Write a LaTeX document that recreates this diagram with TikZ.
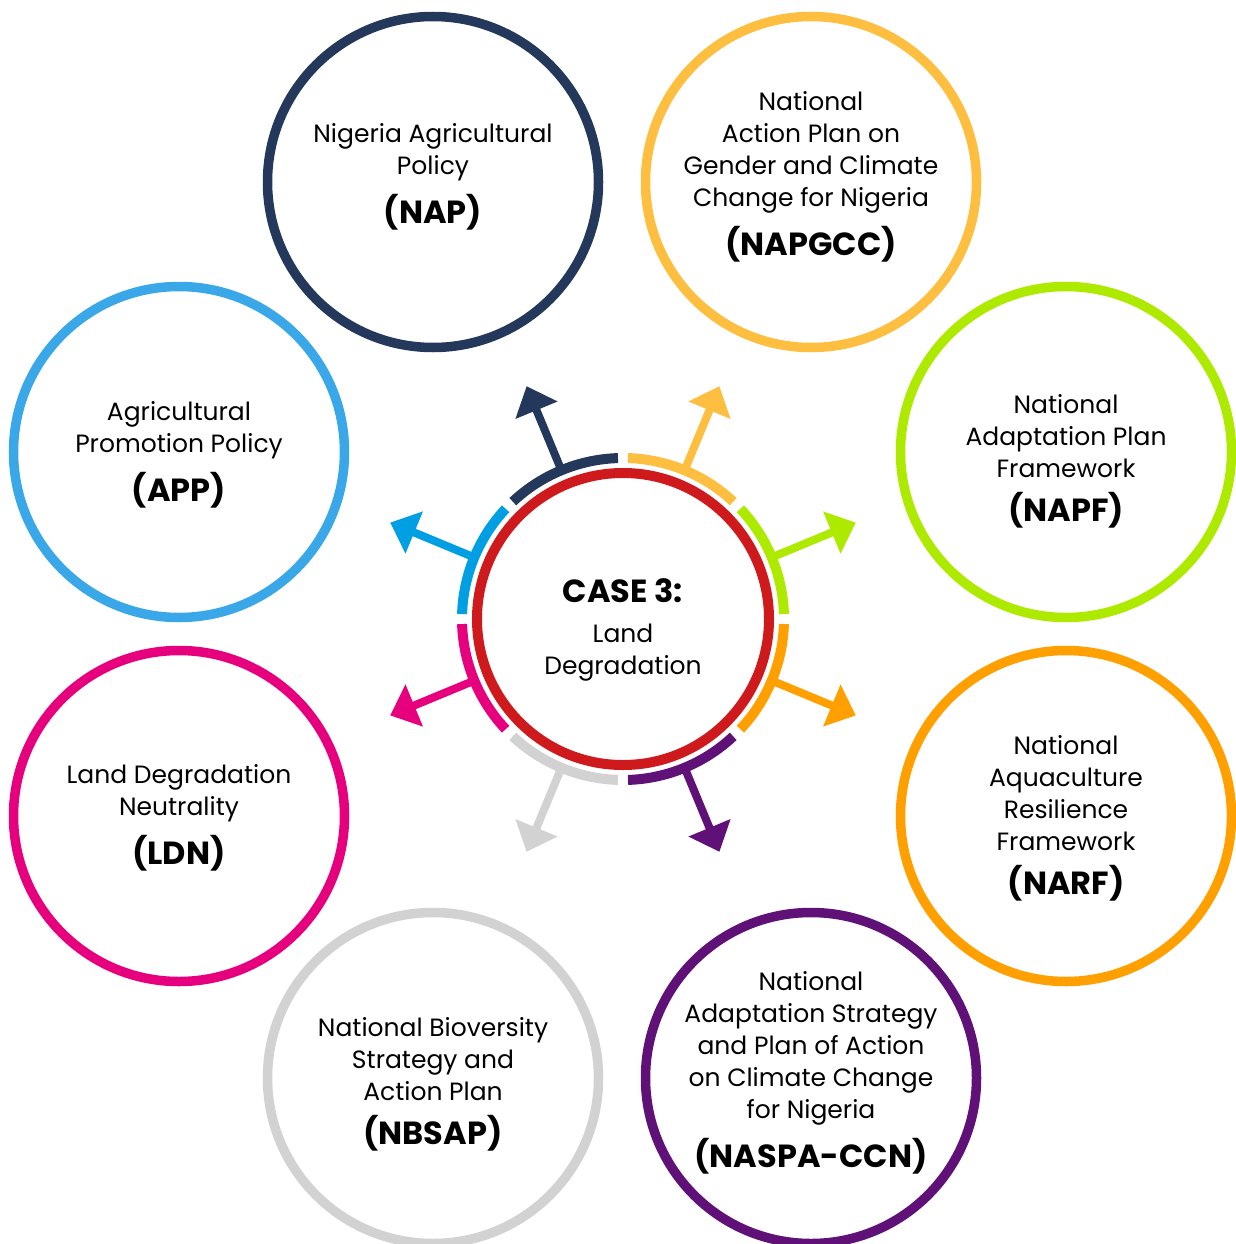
\documentclass[tikz,border=0pt]{standalone}
\usepackage{fontspec}
\setmainfont{Poppins}
\usetikzlibrary{arrows.meta}
\definecolor{navy}{HTML}{23385A}
\definecolor{gold}{HTML}{FEBE40}
\definecolor{lime}{HTML}{AEEA00}
\definecolor{amber}{HTML}{FFA000}
\definecolor{plum}{HTML}{5F1178}
\definecolor{silver}{HTML}{D2D2D2}
\definecolor{rose}{HTML}{E6007E}
\definecolor{sky}{HTML}{3AA8E8}
\definecolor{cyanarc}{HTML}{009FE3}
\definecolor{crimson}{HTML}{CF1A1D}

\begin{document}
\begin{tikzpicture}[x=1pt,y=1pt]
   \useasboundingbox (0,0) rectangle (1235,-1244);
   \tikzstyle{ring}=[circle, draw, line width=9.5pt, minimum size=331pt, inner sep=0pt]
   \tikzstyle{txt}=[align=center, font=\fontsize{25}{32}\selectfont, inner sep=0pt]
   \node[circle, draw=crimson, line width=10pt, minimum size=292pt, inner sep=0pt] (case) at (623,-619) {};
   \node[txt] (case-t) at (623,-630) {{\bfseries\fontsize{32}{32}\selectfont CASE 3:}\\[8pt]Land\\Degradation};
   % segments and arrows round the centre
   \foreach \a/\col in {90/navy,135/cyanarc,180/rose,225/silver,270/plum,315/amber,0/lime,45/gold} {
       \draw[\col, line width=10pt] ([shift={(\a+1.8:161)}]case.center) arc[start angle=\a+1.8, end angle=\a+43.2, radius=161];
       \coordinate (s\a) at ([shift={(\a+22.5:161)}]case.center);
       \coordinate (t\a) at ([shift={(\a+22.5:252)}]case.center);
       \draw[\col, line width=8pt, -{Triangle[length=26pt,width=44pt]}] (s\a) -- (t\a);
   }
   % policy circles
   \foreach \n/\x/\y/\ty/\col/\txt/\ab in {
       nap/433/182/177/navy/{Nigeria Agricultural\\Policy}/NAP,
       napgcc/811/182/177/gold/{National\\Action Plan on\\Gender and Climate\\Change for Nigeria}/NAPGCC,
       napf/1066/452/461/lime/{National\\Adaptation Plan\\Framework}/NAPF,
       narf/1066/816/818/amber/{National\\Aquaculture\\Resilience\\Framework}/NARF,
       naspa/811/1078/1073/plum/{National\\Adaptation Strategy\\and Plan of Action\\on Climate Change\\for Nigeria}/NASPA-CCN,
       nbsap/433/1078/1084/silver/{National Bioversity\\Strategy and\\Action Plan}/NBSAP,
       ldn/179/816/818/rose/{Land Degradation\\Neutrality}/LDN,
       app/179/452/455/sky/{Agricultural\\Promotion Policy}/APP} {
       \node[ring, draw=\col] (\n) at (\x,-\y) {};
       \node[txt] (\n-t) at (\x,-\ty) {\txt\\[12pt]{\bfseries\fontsize{32}{32}\selectfont(\ab)}};
   }
\end{tikzpicture}
\end{document}
